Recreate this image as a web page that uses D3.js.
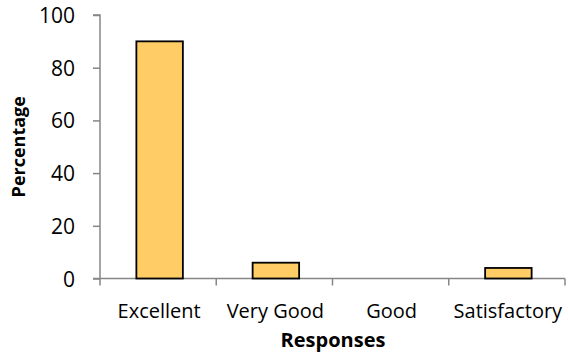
<!DOCTYPE html>
<html><head><meta charset="utf-8">
<script src="https://cdn.jsdelivr.net/npm/d3@7"></script>
<style>body{margin:0;background:#fff;} text{font-family:"Open Sans",sans-serif;fill:#000;}</style>
</head><body><svg id="c" width="568" height="356"></svg>
<script>
const categories = ["Excellent","Very Good","Good","Satisfactory"];
const values = [90, 6, 0, 4];
const yTicks = [0,20,40,60,80,100];

(function(){
const svg = d3.select("#c");
const mL = 100, mR = 565, mT = 15, mB = 278.5;
const x = d3.scaleBand().domain(categories).range([mL + 1.5, mR + 1.5]).paddingInner(0.6).paddingOuter(0.3);
const xb = d3.scaleBand().domain(categories).range([mL, mR]);
const y = d3.scaleLinear().domain([0,100]).range([mB, mT]);
const axisColor = "#868686";

const ya = svg.append("g").attr("transform",`translate(${mL},0)`)
  .call(d3.axisLeft(y).tickValues(yTicks).tickSize(7).tickPadding(18));
ya.select("path.domain").attr("d",`M-7,${mT}H0V${mB}`);
ya.selectAll("path,line").attr("stroke",axisColor).attr("stroke-width",1.5);
ya.selectAll("text").style("font-size","21px").attr("font-family","Open Sans").attr("dy","0.36em");

const xg = svg.append("g").attr("transform",`translate(0,${mB})`);
xg.append("line").attr("x1",mL-7).attr("x2",mR).attr("stroke",axisColor).attr("stroke-width",1.5);
const bounds = categories.map(c=>xb(c)).concat([mR]);
xg.selectAll("line.t").data(bounds).join("line").attr("class","t")
  .attr("x1",d=>d).attr("x2",d=>d).attr("y1",0).attr("y2",7).attr("stroke",axisColor).attr("stroke-width",1.5);
xg.selectAll("text").data(categories).join("text")
  .attr("x",d=>xb(d)+xb.bandwidth()/2 + 1).attr("y",39).attr("text-anchor","middle")
  .style("font-size","20px").text(d=>d);

svg.selectAll("rect.bar").data(values).join("rect").attr("class","bar")
  .attr("x",(d,i)=>x(categories[i])).attr("width",x.bandwidth())
  .attr("y",d=>y(d)).attr("height",d=>mB-y(d))
  .attr("fill",d=>d>0?"#FFCC66":"none").attr("stroke",d=>d>0?"#000":"none").attr("stroke-width",1.8);

svg.append("text").attr("x",333).attr("y",347).attr("text-anchor","middle")
  .style("font-size","20px").style("font-weight","bold").text("Responses");
svg.append("text").attr("transform",`translate(25,${(mT+mB)/2}) rotate(-90)`).attr("text-anchor","middle")
  .style("font-size","18px").style("font-weight","bold").text("Percentage");
})();
</script></body></html>
